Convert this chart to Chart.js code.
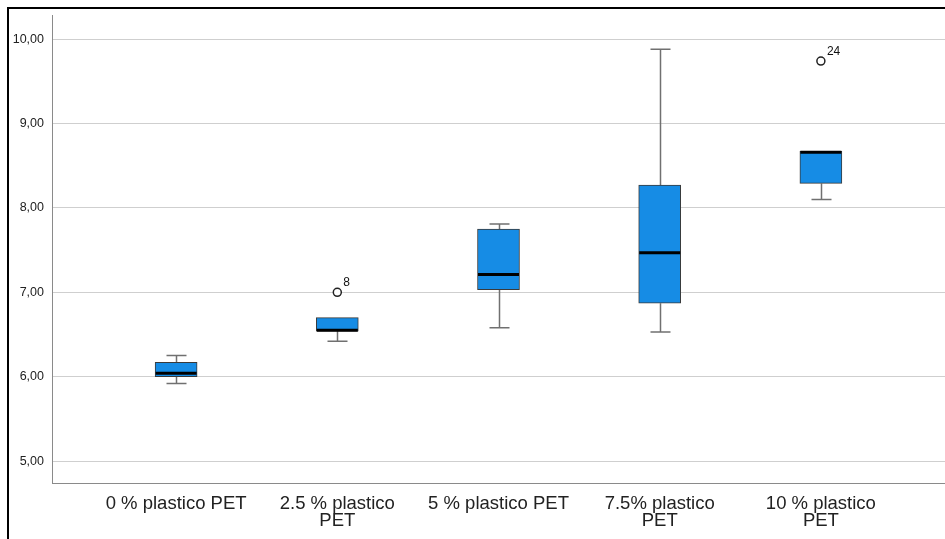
<!DOCTYPE html>
<html>
<head>
<meta charset="utf-8">
<script src="https://cdn.jsdelivr.net/npm/chart.js@4/dist/chart.umd.min.js"></script>
<style>
  html, body { margin: 0; padding: 0; background: #ffffff; }
  #wrap { width: 945px; height: 539px; position: relative; }
</style>
</head>
<body>
<div id="wrap"><canvas id="chart" width="945" height="539"></canvas></div>
<script>
// Box plot of five mixes (percentage of PET plastic)
const categories = [
  '0 % plastico PET',
  ['2.5 % plastico', 'PET'],
  '5 % plastico PET',
  ['7.5% plastico', 'PET'],
  ['10 % plastico', 'PET']
];
const whiskerLow  = [5.92, 6.42, 6.58, 6.53, 8.10];
const quartile1   = [6.00, 6.54, 7.03, 6.87, 8.29];
const medians     = [6.04, 6.55, 7.21, 7.47, 8.66];
const quartile3   = [6.17, 6.70, 7.75, 8.27, 8.67];
const whiskerHigh = [6.25, 6.70, 7.81, 9.88, 8.67];
const outlierGroup = [1, 4];
const outlierValue = [7.00, 9.74];
const outlierCase  = ['8', '24'];
const yTicks = [5, 6, 7, 8, 9, 10];

const boxData = categories.map((c, i) => ({ x: i, y: [quartile1[i], quartile3[i]] }));
const outlierData = outlierGroup.map((g, i) => ({ x: g, y: outlierValue[i] }));

// Whiskers, caps and medians drawn against the chart scales
const boxExtras = {
  id: 'boxExtras',
  beforeDraw(chart) {
    const ctx = chart.ctx;
    ctx.save();
    ctx.fillStyle = '#000000';
    ctx.fillRect(7, 7, 2, chart.height);
    ctx.fillRect(7, 7, chart.width, 2);
    ctx.restore();
  },
  beforeDatasetsDraw(chart) {
    const ctx = chart.ctx;
    const xs = chart.scales.x, ys = chart.scales.y;
    ctx.save();
    ctx.strokeStyle = '#707070';
    ctx.lineWidth = 1.5;
    categories.forEach((c, i) => {
      const x = Math.round(xs.getPixelForValue(i)) + 0.5;
      const yLo = ys.getPixelForValue(whiskerLow[i]);
      const yQ1 = ys.getPixelForValue(quartile1[i]);
      const yQ3 = ys.getPixelForValue(quartile3[i]);
      const yHi = ys.getPixelForValue(whiskerHigh[i]);
      ctx.beginPath();
      ctx.moveTo(x, yQ1); ctx.lineTo(x, yLo);
      ctx.moveTo(x, yQ3); ctx.lineTo(x, yHi);
      ctx.moveTo(x - 10, yLo); ctx.lineTo(x + 10, yLo);
      if (whiskerHigh[i] > quartile3[i]) {
        ctx.moveTo(x - 10, yHi); ctx.lineTo(x + 10, yHi);
      }
      ctx.stroke();
    });
    ctx.restore();
  },
  afterDatasetsDraw(chart) {
    const ctx = chart.ctx;
    const xs = chart.scales.x, ys = chart.scales.y;
    ctx.save();
    ctx.strokeStyle = '#000000';
    ctx.lineWidth = 3;
    categories.forEach((c, i) => {
      const x = xs.getPixelForValue(i);
      const y = ys.getPixelForValue(medians[i]);
      ctx.beginPath();
      ctx.moveTo(x - 20.5, y); ctx.lineTo(x + 20.5, y);
      ctx.stroke();
    });
    ctx.fillStyle = '#111111';
    ctx.font = '12px "Liberation Sans", Arial, sans-serif';
    ctx.textAlign = 'left';
    ctx.textBaseline = 'alphabetic';
    outlierGroup.forEach((g, i) => {
      const x = xs.getPixelForValue(g);
      const y = ys.getPixelForValue(outlierValue[i]);
      ctx.fillText(outlierCase[i], x + 6, y - 6);
    });
    ctx.restore();
  }
};

new Chart(document.getElementById('chart'), {
  type: 'bar',
  data: {
    datasets: [
      {
        type: 'bar',
        data: boxData,
        backgroundColor: '#168ce5',
        borderColor: '#3a3a3a',
        borderWidth: 1,
        borderSkipped: false,
        barThickness: 42,
        order: 2
      },
      {
        type: 'scatter',
        data: outlierData,
        pointStyle: 'circle',
        pointRadius: 4,
        pointBackgroundColor: '#ffffff',
        pointBorderColor: '#222222',
        pointBorderWidth: 1.5,
        order: 1
      }
    ]
  },
  options: {
    responsive: false,
    devicePixelRatio: 1,
    animation: false,
    layout: { autoPadding: false, padding: { top: 15, right: 0, left: 0, bottom: 0 } },
    plugins: { legend: { display: false }, tooltip: { enabled: false } },
    scales: {
      x: {
        type: 'linear',
        offset: false,
        min: -0.77,
        max: 4.77,
        afterBuildTicks(scale) { scale.ticks = categories.map((c, i) => ({ value: i })); },
        afterFit(scale) { scale.height = 56; },
        grid: { display: false, drawTicks: false, offset: false },
        border: { color: '#8a8a8a', width: 1 },
        ticks: {
          autoSkip: false,
          maxRotation: 0,
          padding: 12,
          color: '#222222',
          font: { family: '"Liberation Sans", Arial, sans-serif', size: 18.5, lineHeight: 0.93 },
          callback: (v) => categories[v]
        }
      },
      y: {
        min: 4.74,
        max: 10.28,
        afterBuildTicks(scale) { scale.ticks = yTicks.map(v => ({ value: v })); },
        afterFit(scale) { scale.width = 52; },
        grid: { color: '#cfcfcf', lineWidth: 1, drawTicks: false },
        border: { color: '#8a8a8a', width: 1 },
        ticks: {
          padding: 8,
          color: '#222222',
          font: { family: '"Liberation Sans", Arial, sans-serif', size: 12.5 },
          callback: (v) => v.toFixed(2).replace('.', ',')
        }
      }
    }
  },
  plugins: [boxExtras]
});
</script>
</body>
</html>
